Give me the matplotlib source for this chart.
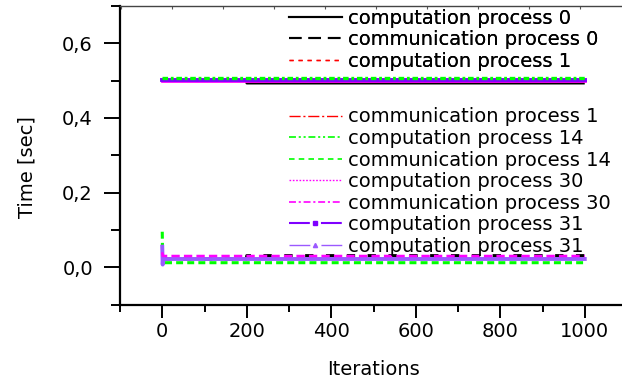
import matplotlib
matplotlib.use("Agg")
import matplotlib.pyplot as plt
from matplotlib.lines import Line2D
from matplotlib.ticker import MultipleLocator, FixedLocator, FixedFormatter

plt.rcParams['font.family'] = ['DejaVu Sans']
plt.rcParams['lines.scale_dashes'] = False

# ---------------- data ----------------
iterations = [0, 1, 2, 5, 199, 200, 1000]
comp0  = [0.500, 0.500, 0.500, 0.500, 0.500, 0.493, 0.493]
comm0  = [0.022, 0.022, 0.022, 0.022, 0.022, 0.031, 0.031]
comp1  = [0.500, 0.500, 0.500, 0.500, 0.500, 0.500, 0.500]
comm1  = [0.052, 0.022, 0.022, 0.022, 0.022, 0.022, 0.022]
comp14 = [0.508, 0.508, 0.508, 0.508, 0.508, 0.508, 0.508]
comm14 = [0.095, 0.012, 0.012, 0.012, 0.012, 0.012, 0.012]
comp30 = [0.498, 0.498, 0.498, 0.498, 0.498, 0.498, 0.498]
comm30 = [0.040, 0.030, 0.030, 0.030, 0.030, 0.030, 0.030]
comp31 = [0.502, 0.502, 0.502, 0.502, 0.502, 0.502, 0.502]
comp31b = [0.055, 0.007, 0.022, 0.022, 0.022, 0.022, 0.022]

labels = ["computation process 0", "communication process 0", "computation process 1",
          "communication process 1", "computation process 14", "communication process 14",
          "computation process 30", "communication process 30", "computation process 31",
          "computation process 31"]

y_ticks = [0.0, 0.2, 0.4, 0.6]
y_ticklabels = ["0,0", "0,2", "0,4", "0,6"]
x_ticks = [0, 200, 400, 600, 800, 1000]
x_ticklabels = ["0", "200", "400", "600", "800", "1000"]

# ---------------- styles ----------------
BLACK, RED, GREEN, MAG, PUR, PUR2 = "#000000", "#ff0000", "#00ff00", "#ff00ff", "#7f00ff", "#9b59ff"

fig = plt.figure(figsize=(6.22, 3.85), dpi=100)
W, H = 622, 385
ax = fig.add_axes([120 / W, 1 - 304.5 / H, 507 / W, 298.5 / H])

# data lines (drawn in an order that matches the overlap in the reference)
ax.plot(iterations, comp0, color=BLACK, lw=1.8, solid_capstyle='butt')
ax.plot(iterations, comm0, color=BLACK, lw=2.2, dashes=(6, 9))
ax.plot(iterations, comp1, color=RED, lw=1.5, dashes=(3, 3))
ax.plot(iterations, comm1, color=RED, lw=1.5, dashes=(7, 2, 1.5, 2))
ax.plot(iterations, comp30, color=MAG, lw=2.0)
ax.plot(iterations, comm14, color=GREEN, lw=2.2, dashes=(5, 3))
ax.plot(iterations, comp31, color=PUR, lw=2.8)
ax.plot(iterations, comp14, color=GREEN, lw=2.4, dashes=(4, 2, 2, 2))
ax.plot(iterations, comp31b, color=PUR2, lw=2.8)
ax.plot(iterations, comm30, color=MAG, lw=1.8, dashes=(6, 3))

ax.set_xlim(-100, 1100)
ax.set_ylim(-0.1, 0.7)

ax.xaxis.set_major_locator(FixedLocator(x_ticks))
ax.xaxis.set_major_formatter(FixedFormatter(x_ticklabels))
ax.xaxis.set_minor_locator(MultipleLocator(100))
ax.yaxis.set_major_locator(FixedLocator(y_ticks))
ax.yaxis.set_major_formatter(FixedFormatter(y_ticklabels))
ax.yaxis.set_minor_locator(MultipleLocator(0.1))

for s in ['left', 'bottom']:
    ax.spines[s].set_linewidth(1.6)
ax.spines['right'].set_visible(False)
ax.spines['top'].set_visible(False)

ax.tick_params(axis='y', which='major', direction='out', length=11.5, width=1.4, labelsize=14, pad=8)
ax.tick_params(axis='y', which='minor', direction='out', length=6.5, width=1.4)
ax.tick_params(axis='x', which='major', direction='out', length=9.5, width=1.4, labelsize=14, pad=3)
ax.tick_params(axis='x', which='minor', direction='out', length=5, width=1.4)

ax.set_xlabel("Iterations", fontsize=14)
ax.set_ylabel("Time [sec]", fontsize=14)
ax.xaxis.set_label_coords(0.5, -0.185)
ax.xaxis.label.set_va('top')
ax.yaxis.set_label_coords(-0.165, 0.46)

# top thin axis with small inward ticks
top = ax.twiny()
top.set_xlim(-1.0137, 8.927)
top.xaxis.set_major_locator(MultipleLocator(1))
top.tick_params(axis='x', direction='in', length=2.5, width=0.8, colors='#555555', labeltop=False)
for s in ['left', 'bottom', 'right']:
    top.spines[s].set_visible(False)
top.spines['top'].set_linewidth(1.0)
top.spines['top'].set_color('#444444')

# ---------------- legends ----------------
handles = [
    Line2D([], [], color=BLACK, lw=1.5),
    Line2D([], [], color=BLACK, lw=1.5, dashes=(9, 5)),
    Line2D([], [], color=RED, lw=1.0, dashes=(3, 3.5)),
    Line2D([], [], color=RED, lw=1.0, dashes=(8, 2, 1.5, 2)),
    Line2D([], [], color=GREEN, lw=1.2, dashes=(5, 2, 1.5, 2, 1.5, 2)),
    Line2D([], [], color=GREEN, lw=1.2, dashes=(4, 3)),
    Line2D([], [], color=MAG, lw=1.0, dashes=(1.2, 1.2)),
    Line2D([], [], color=MAG, lw=1.2, dashes=(5, 2, 1.5, 2)),
    Line2D([], [], color=PUR, lw=1.5, dashes=(15, 8), marker='s', markersize=3.5),
    Line2D([], [], color=PUR2, lw=1.0, dashes=(15, 8), marker='^', markersize=3),
]
leg_kw = dict(frameon=False, fontsize=14, handlelength=2.7, handletextpad=0.35,
              borderpad=0, borderaxespad=0, labelspacing=0.13, numpoints=1,
              bbox_transform=fig.transFigure, loc='upper left')
leg1 = ax.legend(handles[:3], labels[:3], bbox_to_anchor=(289 / W, 1 - 8.5 / H), **leg_kw)
ax.add_artist(leg1)
leg2 = top.legend(handles[3:], labels[3:], bbox_to_anchor=(289 / W, 1 - 107.5 / H), **leg_kw)

fig.savefig("out.png", dpi=100)
